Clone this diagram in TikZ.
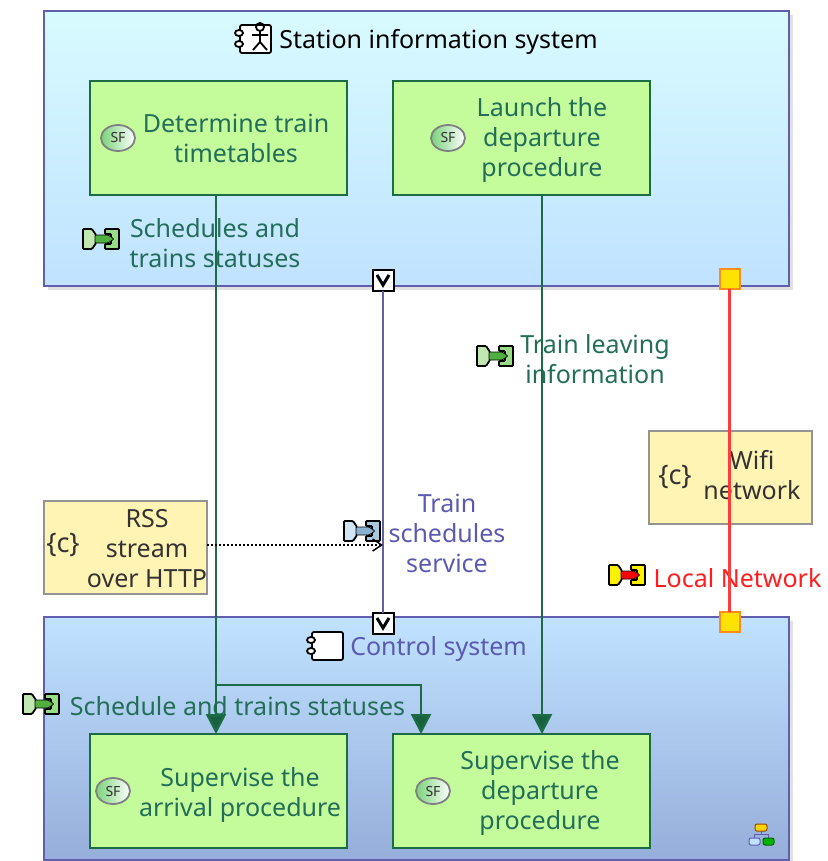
\documentclass[tikz,border=0pt]{standalone}
\usepackage{fontspec}
\setmainfont{Noto Sans}
\usepackage{tikz}
\usetikzlibrary{positioning,arrows.meta,shapes.geometric}

\definecolor{funcgreen}{HTML}{1B6B45}
\definecolor{funcfill}{HTML}{C4FC9C}
\definecolor{txtgreen}{HTML}{236E58}
\definecolor{sysline}{HTML}{5F5FAE}
\definecolor{txtpurple}{HTML}{5A5AB0}
\definecolor{netred}{HTML}{FF3B3B}
\definecolor{noteyellow}{HTML}{FFF4B4}
\definecolor{topbluea}{HTML}{D8FBFF}
\definecolor{topblueb}{HTML}{C0E2FF}
\definecolor{botblue}{HTML}{96AEDA}
\definecolor{itemlg}{HTML}{C0E8B0}
\definecolor{itemmg}{HTML}{50B040}
\definecolor{itemrg}{HTML}{9ADB8A}
\definecolor{itemlb}{HTML}{D0E4F4}
\definecolor{itemmb}{HTML}{88B0D0}
\definecolor{itemrb}{HTML}{A8C8E0}

% text moved right (#1) and down (#2) from the centre of its box
\newcommand{\shifted}[3]{\hspace*{#1pt}\raisebox{0pt}[\height][\dimexpr\depth-#2pt-#2pt\relax]{\begin{tabular}{@{}c@{}}#3\end{tabular}}}

% exchange item icon
\newcommand{\xitem}[4]{%
\begin{scope}[shift={#1},line width=1.8pt,rounded corners=1pt]
\draw[fill=#2] (-18,-10) -- (-9,-10) -- (-5,-4) -- (-5,4) -- (-9,10) -- (-18,10) -- cycle;
\draw[fill=#4] (4,-10) -- (18,-10) -- (18,10) -- (4,10) -- (4,5) -- (10,5) -- (10,-5) -- (4,-5) -- cycle;
\draw[fill=#3,line width=0.8pt] (-6,-4) -- (7,-4) -- (13,0) -- (7,4) -- (-6,4) -- cycle;
\end{scope}}

% component icon
\newcommand{\compicon}[1]{%
\begin{scope}[shift={#1},line width=1.8pt]
\draw[fill=white,rounded corners=2pt] (-13,-14) rectangle (18,14);
\draw[fill=white] (-14,-6) ellipse (4 and 3);
\draw[fill=white] (-14,5) ellipse (4 and 3);
\end{scope}}

\begin{document}
\begin{tikzpicture}[x=1pt,y=-1pt,>=Latex,outer sep=0pt]
\tikzstyle{sysbox}=[rectangle,draw=sysline,line width=1.8pt,minimum width=745pt,inner sep=0pt]
\tikzstyle{func}=[rectangle,draw=funcgreen,line width=1.8pt,fill=funcfill,text=txtgreen,align=center,minimum width=257pt,minimum height=114pt,inner sep=0pt]
\tikzstyle{comm}=[rectangle,draw=gray!85,line width=1.8pt,fill=noteyellow,text=black!80,align=center,minimum width=163pt,minimum height=93pt,inner sep=0pt]
\tikzstyle{vport}=[rectangle,draw=black,line width=2pt,fill=white,minimum size=21pt,inner sep=0pt,
  path picture={\draw[line width=3pt] (path picture bounding box.center) ++(-6,-5) -- ++(6,10) -- ++(6,-10);}]
\tikzstyle{yport}=[rectangle,draw=orange!90,line width=2pt,fill=yellow!85!orange,minimum size=20pt,inner sep=0pt]
\tikzstyle{sficon}=[ellipse,draw=gray,line width=1.8pt,left color=green!50!gray!70,right color=white,text=black!80,minimum width=34pt,minimum height=26pt,inner sep=0pt,font=\fontsize{14}{14}\selectfont\bfseries]
\tikzstyle{lbl}=[align=center,inner sep=0pt]
\tikzstyle{flow}=[draw=funcgreen,line width=2.5pt,-{Triangle[width=20pt,length=20pt,fill=funcgreen!90!black]}]
\tikzstyle{curly}=[inner sep=0pt,text=black!80,font=\fontsize{27}{27}\selectfont]
\fontsize{25}{30}\selectfont

\clip (0,0) rectangle (827,861);

% Shadows of the systems
\fill[black!12] (48,15) rectangle (793,290);
\fill[black!12] (48,621) rectangle (793,865);

% Systems
\node[sysbox,minimum height=275pt,top color=topbluea,bottom color=topblueb] (SIS) at (416.5,148.5) {};
\node[sysbox,minimum height=243pt,top color=topblueb,bottom color=botblue] (CS) at (416.5,738.5) {};
\node[lbl] (SISt) at (438.5,42) {Station information system};
\node[lbl,text=txtpurple] (CSt) at (438.5,649) {Control system};
\compicon{(253,39)}
\draw[line width=1.8pt] (260,27) circle (4) (252,35) -- (268,35) (260,31) -- (260,42) -- (253,50) (260,42) -- (267,50);
\compicon{(325,646)}

% Functions
\node[func] (DT) at (218.5,138) {\shifted{35}{4}{Determine train\\timetables}};
\node[func,right=46pt of DT] (LD) {\shifted{41}{3}{Launch the\\departure\\procedure}};
\node[func] (SA) at (218.5,791) {\shifted{43}{4}{Supervise the\\arrival procedure}};
\node[func,right=46pt of SA] (SD) {\shifted{37}{2}{Supervise the\\departure\\procedure}};
\node[sficon] (SF1) at (118,138) {SF};
\node[sficon] (SF2) at (448,138) {SF};
\node[sficon] (SF3) at (113,791) {SF};
\node[sficon] (SF4) at (433,791) {SF};

% Constraints
\node[comm] (RSS) at (125.5,547.5) {\shifted{43}{4}{RSS\\stream\\over HTTP}};
\node[comm] (WN) at (730.5,477.5) {\shifted{43}{1}{Wifi\\network}};
\node[curly] (C1) at (63,545) {\{c\}};
\node[curly] (C2) at (675,477) {\{c\}};

% Exchange labels
\xitem{(101,239)}{itemlg}{itemmg}{itemrg}
\xitem{(495,356)}{itemlg}{itemmg}{itemrg}
\xitem{(41,704)}{itemlg}{itemmg}{itemrg}
\xitem{(362,531)}{itemlb}{itemmb}{itemrb}
\xitem{(627,575)}{yellow}{red}{yellow}
\node[lbl,text=txtgreen] (L1) at (215,243) {Schedules and\\trains statuses};
\node[lbl,text=txtgreen] (L2) at (595,359) {Train leaving\\information};
\node[lbl,text=txtgreen] (L3) at (237.5,706) {Schedule and trains statuses};
\node[lbl,text=txtpurple] (L4) at (447,533) {Train\\schedules\\service};
\node[lbl,text=red!85!pink] (L5) at (737.5,578) {Local Network};

% Tree icon
\draw[sysline,line width=1pt] (761,830) -- (761,834) (754,838) -- (754,834) -- (768,834) -- (768,838);
\draw[line width=1pt,draw=orange!60!black,fill=yellow!70!orange,rounded corners=2pt] (755,824) rectangle (767,831);
\draw[line width=1pt,draw=sysline,fill=topblueb,rounded corners=2pt] (749,838) rectangle (760,845);
\draw[line width=1pt,draw=green!40!black,fill=green!70!black,rounded corners=2pt] (763,838) rectangle (774,845);

% Ports
\node[vport] (P1) at (383,280) {};
\node[vport] (P2) at (383,623) {};
\node[yport] (Y1) at (729.5,279) {};
\node[yport] (Y2) at (729.5,622) {};

% Connectors
\draw[sysline,line width=2.5pt] (P1) -- (P2);
\draw[netred,line width=2.5pt] (Y1) -- (Y2);
\draw[flow] (DT.south -| SA.north) ++(-2.5,0) coordinate (A1) -- (A1 |- SA.north);
\coordinate (B1) at (A1 |- 0,685);
\coordinate (B2) at (421,685);
\draw[flow] (B1) -- (B2) -- (B2 |- SD.north);
\coordinate (A2) at (542,195);
\draw[flow] (A2) -- (A2 |- SD.north);
\coordinate (A3) at (383,545);
\draw[dotted,line width=2pt,-{Straight Barb[length=9pt,width=12pt,line width=1.5pt]}] (RSS.east |- A3) -- (A3);
\end{tikzpicture}
\end{document}
